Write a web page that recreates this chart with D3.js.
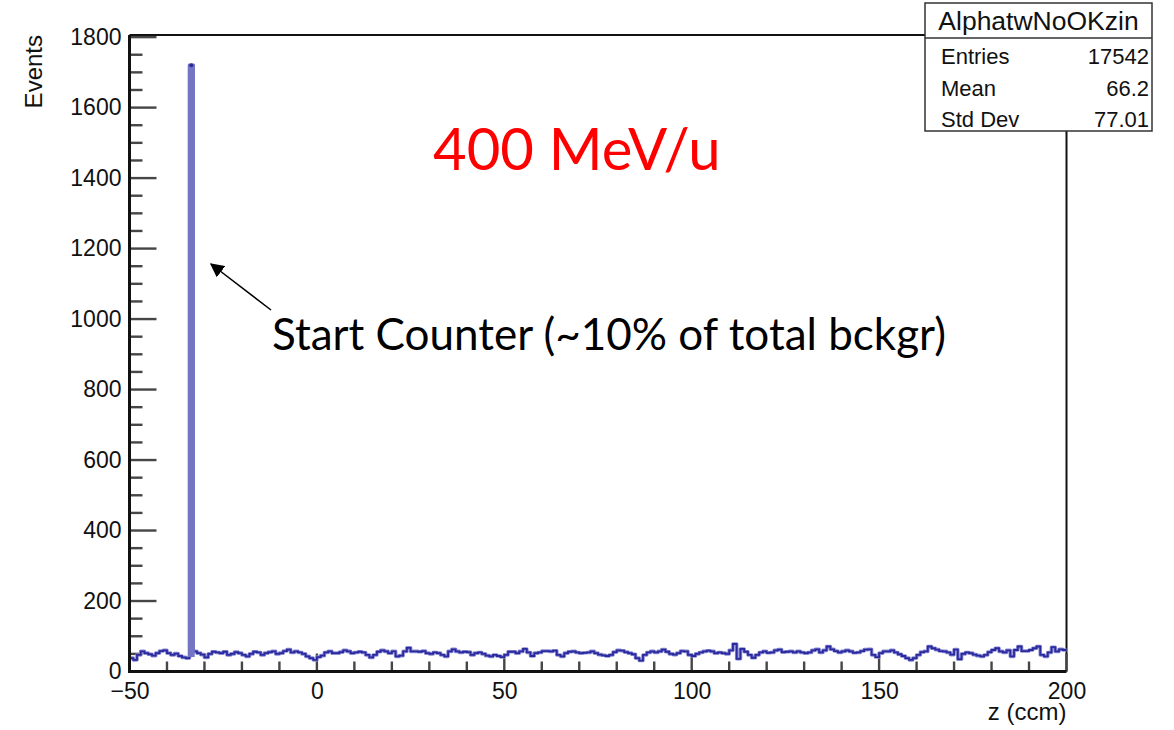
<!DOCTYPE html>
<html>
<head>
<meta charset="utf-8">
<script src="https://cdn.jsdelivr.net/npm/d3@7"></script>
<style>
  body { margin: 0; background: #fff; }
  svg text { font-family: "Liberation Sans", Arial, Helvetica, sans-serif; }
  svg text.note { font-family: Lato, "Open Sans", sans-serif; }
</style>
</head>
<body>
<svg id="chart"></svg>
<script>
// histogram range and binning (1 ccm per bin)
const zLow = -50;
const zHigh = 200;
const binWidth = 1;

// events per bin, from z = -50 upwards
const counts = [
  38, 33, 47, 57, 52, 49, 45, 52, 58, 60, 52, 47, 51, 44, 40, 38, 1720, 57, 52, 48,
  40, 50, 56, 54, 52, 56, 47, 50, 55, 52, 47, 43, 50, 56, 54, 47, 52, 55, 57, 50,
  52, 58, 62, 54, 57, 54, 50, 43, 38, 33,
  41, 45, 54, 57, 52, 52, 55, 60, 57, 52, 54, 56, 54, 47, 40, 47, 56, 60, 57, 52,
  57, 43, 45, 57, 67, 57, 57, 56, 58, 52, 50, 54, 52, 47, 43, 57, 63, 57, 54, 56,
  55, 47, 52, 54, 50, 45, 43, 47, 44, 41,
  47, 56, 56, 52, 57, 64, 54, 44, 52, 54, 58, 58, 57, 59, 47, 43, 52, 56, 57, 54,
  52, 53, 54, 57, 52, 48, 46, 44, 47, 55, 60, 59, 55, 52, 49, 38, 31, 47, 54, 57,
  54, 57, 62, 56, 50, 48, 52, 58, 57, 47,
  44, 50, 54, 57, 59, 57, 52, 54, 52, 50, 60, 78, 36, 64, 56, 47, 39, 47, 54, 57,
  53, 54, 60, 62, 55, 56, 57, 54, 57, 54, 52, 54, 60, 63, 54, 60, 71, 63, 58, 54,
  57, 60, 57, 53, 54, 58, 62, 63, 47, 41,
  52, 57, 57, 60, 54, 49, 44, 38, 33, 38, 47, 55, 57, 71, 66, 62, 58, 57, 54, 48,
  62, 35, 50, 54, 52, 48, 45, 43, 47, 55, 61, 66, 57, 54, 60, 43, 61, 71, 58, 58,
  61, 66, 71, 47, 43, 54, 69, 57, 63, 61
];

const xMajorTicks = [-50, 0, 50, 100, 150, 200];
const yMajorTicks = [0, 200, 400, 600, 800, 1000, 1200, 1400, 1600, 1800];

const statsTitle = "AlphatwNoOKzin";
const statsLabels = ["Entries", "Mean", "Std Dev"];
const statsValues = ["17542", "66.2", "77.01"];

const energyLabel = "400 MeV/u";
const peakNote = "Start Counter (~10% of total bckgr)";

const width = 1174;
const height = 730;
const frame = { left: 129.5, right: 1066.5, top: 35, bottom: 671.5 };

const svg = d3.select("#chart")
  .attr("width", width)
  .attr("height", height);

const x = d3.scaleLinear()
  .domain([zLow, zHigh])
  .range([frame.left, frame.right]);

// ROOT leaves 5% headroom above the tallest bin
const y = d3.scaleLinear()
  .domain([0, d3.max(counts) * 1.05])
  .range([frame.bottom, frame.top]);

const bins = counts.map((c, i) => ({ lo: zLow + i * binWidth, hi: zLow + (i + 1) * binWidth, c }));

// frame top and right edges
svg.append("path")
  .attr("d", `M${frame.left},${frame.top}H${frame.right}V${frame.bottom}`)
  .attr("fill", "none")
  .attr("stroke", "#111")
  .attr("stroke-width", 2);

// tick marks, drawn inward from the axes (major ones longer)
const yMinor = d3.range(0, 1801, 50);
const xMinor = d3.range(zLow, zHigh + 1, 10);

svg.append("g")
  .selectAll("rect")
  .data(yMinor)
  .enter()
  .append("rect")
  .attr("x", frame.left)
  .attr("y", v => y(v) - 1.2)
  .attr("width", v => (v % 200 === 0 ? 27 : 13))
  .attr("height", 2.4)
  .attr("fill", "#464646");

svg.append("g")
  .selectAll("rect")
  .data(xMinor)
  .enter()
  .append("rect")
  .attr("x", v => x(v) - 1.2)
  .attr("y", v => frame.bottom - (v % 50 === 0 ? 18 : 10))
  .attr("width", 2.4)
  .attr("height", v => (v % 50 === 0 ? 18 : 10))
  .attr("fill", "#464646");

// histogram outline
const stepPoints = bins.map(b => [b.lo, b.c]).concat([[zHigh, counts[counts.length - 1]]]);
const line = d3.line()
  .x(d => x(d[0]))
  .y(d => y(d[1]))
  .curve(d3.curveStepAfter);

svg.append("path")
  .datum(stepPoints)
  .attr("d", line)
  .attr("fill", "none")
  .attr("stroke", "#8c8cd4")
  .attr("stroke-width", 3.6)
  .attr("stroke-linejoin", "round");

svg.append("path")
  .datum(stepPoints)
  .attr("d", line)
  .attr("fill", "none")
  .attr("stroke", "#2a2a9e")
  .attr("stroke-width", 1.8);

// the tall bin blurs into one solid column
const peak = bins.filter(b => b.c > 500);
svg.selectAll("rect.peak")
  .data(peak)
  .enter()
  .append("rect")
  .attr("class", "peak")
  .attr("x", b => x(b.lo))
  .attr("y", b => y(b.c))
  .attr("width", b => x(b.hi) - x(b.lo))
  .attr("height", b => y(0) - y(b.c) - 16)
  .attr("fill", "#7474c5")
  .attr("stroke", "#7474c5")
  .attr("stroke-width", 3);

svg.selectAll("circle.peaktop")
  .data(peak)
  .enter()
  .append("circle")
  .attr("class", "peaktop")
  .attr("cx", b => x((b.lo + b.hi) / 2))
  .attr("cy", b => y(b.c))
  .attr("r", 2)
  .attr("fill", "#2a2a9e");

// tick labels
svg.append("g")
  .attr("transform", `translate(${frame.left},0)`)
  .call(d3.axisLeft(y).tickValues(yMajorTicks).tickSize(0).tickPadding(8).tickFormat(d3.format("d")))
  .call(g => g.select(".domain").remove())
  .call(g => g.selectAll(".tick line").remove())
  .call(g => g.selectAll(".tick text").attr("font-size", 23).attr("fill", "#111"));

svg.append("g")
  .attr("transform", `translate(0,${frame.bottom})`)
  .call(d3.axisBottom(x).tickValues(xMajorTicks).tickSize(0).tickPadding(11))
  .call(g => g.select(".domain").remove())
  .call(g => g.selectAll(".tick line").remove())
  .call(g => g.selectAll(".tick text").attr("font-size", 23).attr("fill", "#111"));

// axis lines on top of the ticks
svg.append("path")
  .attr("d", `M${frame.left},${frame.top}V${frame.bottom}H${frame.right}`)
  .attr("fill", "none")
  .attr("stroke", "#111")
  .attr("stroke-width", 3);

// axis titles
svg.append("text")
  .attr("transform", `translate(42,${frame.top}) rotate(-90)`)
  .attr("text-anchor", "end")
  .attr("font-size", 24)
  .attr("fill", "#111")
  .text("Events");

svg.append("text")
  .attr("x", frame.right)
  .attr("y", 720)
  .attr("text-anchor", "end")
  .attr("font-size", 24)
  .attr("fill", "#111")
  .text("z (ccm)");

// stats box
const box = { x: 925, y: 3, w: 227, h: 128, head: 38 };
const stats = svg.append("g");
stats.append("rect")
  .attr("x", box.x).attr("y", box.y)
  .attr("width", box.w).attr("height", box.h)
  .attr("fill", "#fff")
  .attr("stroke", "#333")
  .attr("stroke-width", 1.5);
stats.append("line")
  .attr("x1", box.x).attr("x2", box.x + box.w)
  .attr("y1", box.head).attr("y2", box.head)
  .attr("stroke", "#333")
  .attr("stroke-width", 1.5);
stats.append("text")
  .attr("x", box.x + box.w / 2)
  .attr("y", 30)
  .attr("text-anchor", "middle")
  .attr("font-size", 26.5)
  .attr("fill", "#111")
  .text(statsTitle);

const rowY = d3.scalePoint().domain(statsLabels).range([64, 127]);
stats.selectAll("text.lab")
  .data(statsLabels)
  .enter()
  .append("text")
  .attr("class", "lab")
  .attr("x", 941)
  .attr("y", d => rowY(d))
  .attr("font-size", 22)
  .attr("fill", "#111")
  .text(d => d);
stats.selectAll("text.val")
  .data(statsValues)
  .enter()
  .append("text")
  .attr("class", "val")
  .attr("x", 1149)
  .attr("y", (d, i) => rowY(statsLabels[i]))
  .attr("text-anchor", "end")
  .attr("font-size", 22)
  .attr("fill", "#111")
  .text(d => d);

// annotations
svg.append("text")
  .attr("class", "note")
  .attr("x", 433)
  .attr("y", 170)
  .attr("font-size", 58)
  .attr("fill", "#ff0000")
  .text(energyLabel);

svg.append("text")
  .attr("class", "note")
  .attr("x", 272)
  .attr("y", 350)
  .attr("font-size", 44)
  .attr("fill", "#000")
  .text(peakNote);

svg.append("defs").append("marker")
  .attr("id", "head")
  .attr("viewBox", "0 0 10 10")
  .attr("refX", 9).attr("refY", 5)
  .attr("markerWidth", 14).attr("markerHeight", 14)
  .attr("markerUnits", "userSpaceOnUse")
  .attr("orient", "auto")
  .append("path")
  .attr("d", "M0,0L10,5L0,10z")
  .attr("fill", "#000");

svg.append("line")
  .attr("x1", 271).attr("y1", 310)
  .attr("x2", 211).attr("y2", 264)
  .attr("stroke", "#000")
  .attr("stroke-width", 1.5)
  .attr("marker-end", "url(#head)");
</script>
</body>
</html>
